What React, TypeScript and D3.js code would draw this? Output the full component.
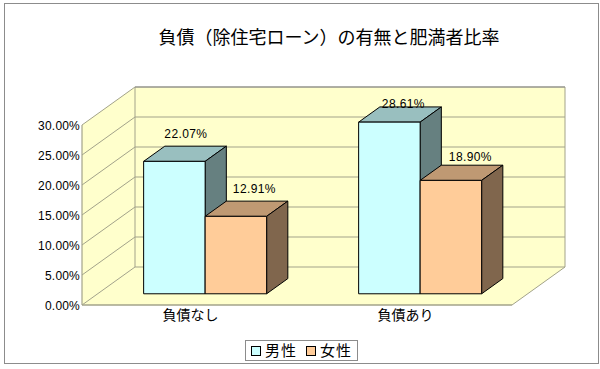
import React from "react";
import * as d3 from "d3";

const title = "負債（除住宅ローン）の有無と肥満者比率";
const categories = ["負債なし", "負債あり"];
const seriesNames = ["男性", "女性"];
const male = [22.07, 28.61];
const female = [12.91, 18.9];
const ticks = [0, 5, 10, 15, 20, 25, 30];

const colors = [
  { front: "#ccffff", top: "#99bfbf", side: "#668080" },
  { front: "#ffcc99", top: "#bf9973", side: "#80664d" },
];
const jpFont = "'Noto Sans CJK JP', sans-serif";
const latinFont = "'Liberation Sans', Arial, sans-serif";

// 3-D frame layout
const floorLeft = 82, floorRight = 512, floorY = 305;
const depthX = 53, depthY = -38;
const plotHeight = 180;
const barDepth = 0.4; // fraction of the room depth occupied by a bar
const barPlane = 0.295; // where the front of the bars stands
const barWidth = 61.5;
const labelShift = [
  [[11.5, -23], [18.5, -23]],
  [[14, -14], [19.5, -19]],
];

const y = d3.scaleLinear().domain([0, 30]).range([floorY, floorY - plotHeight]);
const x = d3.scaleBand<string>().domain(categories).range([floorLeft, floorRight]);
const pts = (p: [number, number][]) => p.map((d) => d.join(",")).join(" ");
const pct = (v: number) => d3.format(".2f")(v) + "%";

export default function App() {
  const values = [male, female];
  const dx = depthX, dy = depthY;
  const shiftX = dx * barPlane, shiftY = dy * barPlane;
  const bdx = dx * barDepth, bdy = dy * barDepth;
  const grid = "#a3a38a";
  return (
    <svg width={600} height={369} style={{ position: "absolute", left: 0, top: 0, background: "#fff" }}>
      <rect x={4.5} y={3.5} width={594} height={360} fill="#fff" stroke="#8c8c8c" strokeWidth={1} />
      <text x={329} y={44} textAnchor="middle" fontFamily={jpFont} fontSize={18} fill="#000">{title}</text>

      {/* walls */}
      <polygon points={pts([[floorLeft, y(0)], [floorLeft + dx, y(0) + dy], [floorLeft + dx, y(30) + dy], [floorLeft, y(30)]])} fill="#ffffcc" />
      <polygon points={pts([[floorLeft + dx, y(0) + dy], [floorRight + dx, y(0) + dy], [floorRight + dx, y(30) + dy], [floorLeft + dx, y(30) + dy]])} fill="#ffffcc" />
      <polygon points={pts([[floorLeft, y(0)], [floorRight, y(0)], [floorRight + dx, y(0) + dy], [floorLeft + dx, y(0) + dy]])} fill="#ffffcc" />
      {ticks.map((t) => (
        <polyline key={t} points={pts([[floorLeft, y(t)], [floorLeft + dx, y(t) + dy], [floorRight + dx, y(t) + dy]])} fill="none" stroke={grid} strokeWidth={1} />
      ))}
      <line x1={floorLeft} x2={floorLeft} y1={y(0)} y2={y(30)} stroke={grid} strokeWidth={1.2} />
      <line x1={floorLeft + dx} x2={floorLeft + dx} y1={y(0) + dy} y2={y(30) + dy} stroke={grid} />
      <line x1={floorRight + dx} x2={floorRight + dx} y1={y(0) + dy} y2={y(30) + dy} stroke={grid} />
      <line x1={floorLeft} x2={floorRight} y1={y(0)} y2={y(0)} stroke={grid} strokeWidth={1.5} />
      <line x1={floorRight} x2={floorRight + dx} y1={y(0)} y2={y(0) + dy} stroke={grid} />
      <line x1={floorLeft + dx} x2={floorRight + dx} y1={y(30) + dy} y2={y(30) + dy} stroke="#8c8c8c" strokeWidth={1.2} />

      {/* y axis */}
      {ticks.map((t) => (
        <text key={t} x={80} y={y(t) + 5} textAnchor="end" fontFamily={latinFont} fontSize={12} letterSpacing={0.2} fill="#000">{pct(t)}</text>
      ))}

      {/* bars */}
      {categories.map((c) => {
        const center = x(c)! + x.bandwidth() / 2 + shiftX;
        const ci = categories.indexOf(c);
        const b = y(0) + shiftY;
        return (
          <g key={c}>
            {values.map((vals, si) => {
              const l = center + (si - 1) * barWidth;
              const r = l + barWidth;
              const t = y(vals[ci]) + shiftY;
              const col = colors[si];
              return (
                <g key={si} stroke="#000" strokeWidth={1} strokeLinejoin="round">
                  <polygon points={pts([[l, t], [r, t], [r + bdx, t + bdy], [l + bdx, t + bdy]])} fill={col.top} />
                  <polygon points={pts([[r, t], [r + bdx, t + bdy], [r + bdx, b + bdy], [r, b]])} fill={col.side} />
                  <rect x={l} y={t} width={barWidth} height={b - t} fill={col.front} />
                </g>
              );
            })}
          </g>
        );
      })}
      {categories.map((c, ci) => {
        const center = x(c)! + x.bandwidth() / 2 + shiftX;
        return values.map((vals, si) => (
          <text key={c + si} x={center + (si - 0.5) * barWidth + labelShift[ci][si][0]} y={y(vals[ci]) + shiftY + labelShift[ci][si][1]} textAnchor="middle" fontFamily={latinFont} fontSize={12} letterSpacing={0.4} fill="#000">{pct(vals[ci])}</text>
        ));
      })}

      {/* category labels */}
      {categories.map((c) => (
        <text key={c} x={x(c)! + x.bandwidth() / 2 + 1} y={320} textAnchor="middle" fontFamily={jpFont} fontSize={14} fill="#000">{c}</text>
      ))}

      {/* legend */}
      <rect x={245.5} y={340.5} width={112} height={20} fill="#fff" stroke="#8c8c8c" />
      {seriesNames.map((s, i) => (
        <g key={s}>
          <rect x={251.5 + i * 55} y={346.5} width={9} height={9} fill={colors[i].front} stroke="#000" />
          <text x={265 + i * 55} y={356} fontFamily={jpFont} fontSize={15} letterSpacing={1} fill="#000">{s}</text>
        </g>
      ))}
    </svg>
  );
}
